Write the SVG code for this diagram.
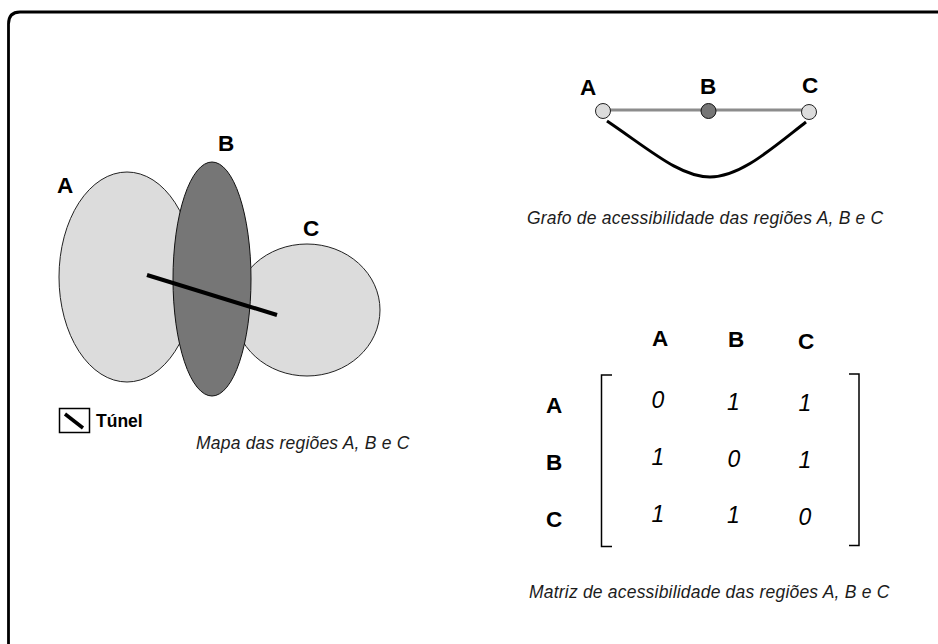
<svg xmlns="http://www.w3.org/2000/svg" width="938" height="644" viewBox="0 0 938 644">
<style>
text{font-family:"Liberation Sans",Arial,sans-serif;fill:#000}
.l{font-size:22.500px;font-weight:700;text-anchor:middle}
.n{font-size:23px;font-style:italic;text-anchor:middle}
.c{font-size:17.500px;letter-spacing:.2px;font-style:italic;fill:#1c1c1c}
.r{fill:#dcdcdc;stroke:#222;stroke-width:1}
.d{fill:#767676;stroke:#111;stroke-width:1}
.k{fill:none;stroke:#000}
</style>
<rect width="938" height="644" fill="#fff"/>
<path id="frame" d="M8.500 644V24Q8.500 12 20 12H938" fill="none" stroke="#000" stroke-width="2.800"/>
<g id="map-region-a"><ellipse class="r" cx="127" cy="277" rx="68" ry="105"/><text class="l" x="65" y="193">A</text></g>
<g id="map-region-c"><ellipse class="r" cx="307" cy="310" rx="73" ry="66"/><text class="l" x="311" y="236">C</text></g>
<g id="map-region-b"><ellipse class="d" cx="212" cy="279" rx="39" ry="117"/><text class="l" x="226" y="151">B</text></g>
<g id="tunnel"><line class="k" x1="147" y1="275" x2="277" y2="315" stroke-width="4"/></g>
<g id="legend"><rect x="59.500" y="408.500" width="30" height="24" fill="#fff" stroke="#000" stroke-width="1.500"/><line class="k" x1="65" y1="414" x2="83" y2="428" stroke-width="3.500"/><text x="96" y="427" font-size="17.500" font-weight="700">Túnel</text></g>
<text class="c" x="196" y="449">Mapa das regiões A, B e C</text>
<g id="connectors">
<line x1="603" y1="110" x2="809" y2="110" stroke="#8c8c8c" stroke-width="3"/>
<path class="k" d="M607 121C650 150 680 177 710 177C740 177 770 150 806 122" stroke-width="3"/>
</g>
<g id="graph-a"><circle class="r" cx="603" cy="111" r="7.500"/><text class="l" x="588" y="95">A</text></g>
<g id="graph-b"><circle class="d" cx="708.500" cy="111" r="7.500"/><text class="l" x="708" y="94">B</text></g>
<g id="graph-c"><circle class="r" cx="809" cy="112" r="7.500"/><text class="l" x="810" y="93">C</text></g>
<text class="c" x="527" y="224">Grafo de acessibilidade das regiões A, B e C</text>
<g id="matrix">
<text class="l" x="660" y="346">A</text><text class="l" x="736" y="347">B</text><text class="l" x="806" y="349">C</text>
<text class="l" x="554" y="412.500">A</text><text class="l" x="554" y="469.500">B</text><text class="l" x="554" y="526.500">C</text>
<path class="k" d="M612 375H601.500V546.500H612M849 374H859V545.500H849" stroke-width="1.500"/>
<text class="n" x="658" y="408">0</text><text class="n" x="733.500" y="410">1</text><text class="n" x="805" y="411">1</text>
<text class="n" x="658" y="465">1</text><text class="n" x="734" y="467">0</text><text class="n" x="805" y="468">1</text>
<text class="n" x="658" y="522">1</text><text class="n" x="733.500" y="523">1</text><text class="n" x="805" y="525">0</text>
</g>
<text class="c" x="529" y="598">Matriz de acessibilidade das regiões A, B e C</text>
</svg>
